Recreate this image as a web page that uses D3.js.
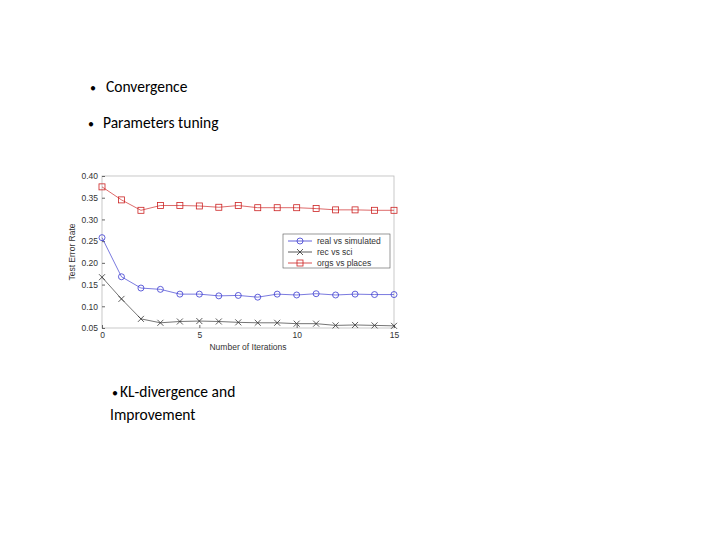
<html>
<script src="https://d3js.org/d3.v7.min.js"></script>
<body style="margin:0;background:#fff">
</body>
<script>
// values
let iterations = d3.range(0, 16);
let orgsPlaces = [0.375,0.345,0.321,0.332,0.332,0.331,0.328,0.332,0.327,0.327,0.327,0.325,0.322,0.322,0.321,0.321];
let realSim = [0.258,0.168,0.142,0.139,0.128,0.128,0.124,0.125,0.121,0.128,0.126,0.129,0.126,0.128,0.127,0.127];
let recSci = [0.167,0.117,0.071,0.062,0.065,0.066,0.065,0.063,0.062,0.062,0.060,0.060,0.056,0.057,0.056,0.055];
let xTicks = [0, 5, 10, 15];
let yTicks = [0.05,0.10,0.15,0.20,0.25,0.30,0.35,0.40];

let svg = d3.select("body").append("svg").attr("width", 720).attr("height", 540)
    .style("font-family", "Carlito, 'Open Sans', sans-serif");

// slide text: [bullet?, text, bulletX, textX, y]
let txt = [[true, "Convergence", 90, 106, 92], [true, "Parameters tuning", 88, 103, 128],
           [true, "KL-divergence and", 112, 120, 397], [false, "Improvement", 0, 110, 420]];
let tg = svg.selectAll(".slide").data(txt).join("g");
tg.filter(d => d[0]).append("text").attr("x", d => d[2]).attr("y", d => d[4])
    .attr("font-size", 12).text("•");
tg.append("text").attr("x", d => d[3]).attr("y", d => d[4]).attr("font-size", 15.5).text(d => d[1]);

let x = d3.scaleLinear().domain([0, 15]).range([102, 394]);
let y = d3.scaleLinear().domain([0.05, 0.40]).range([328, 176]);

let g = svg.append("g").attr("font-family", "'Liberation Sans', Arial, sans-serif");
g.append("rect").attr("x", 102).attr("y", 176).attr("width", 292).attr("height", 152)
    .attr("fill", "none").attr("stroke", "#bbb").attr("stroke-width", 0.8);

g.append("g").attr("transform", "translate(0,328)")
    .call(d3.axisBottom(x).tickValues(xTicks).tickSize(-3).tickPadding(4))
    .call(a => a.select(".domain").remove())
    .call(a => a.selectAll("text").attr("font-size", 8.5).attr("fill", "#333"))
    .call(a => a.selectAll("line").attr("stroke", "#666"));
g.append("g").attr("transform", "translate(102,0)")
    .call(d3.axisLeft(y).tickValues(yTicks).tickSize(-3).tickPadding(4).tickFormat(d3.format(".2f")))
    .call(a => a.select(".domain").remove())
    .call(a => a.selectAll("text").attr("font-size", 8.5).attr("fill", "#333"))
    .call(a => a.selectAll("line").attr("stroke", "#666"));

g.append("text").attr("x", 248).attr("y", 350).attr("text-anchor", "middle")
    .attr("font-size", 8.5).attr("fill", "#333").text("Number of Iterations");
g.append("text").attr("transform", "translate(75,252) rotate(-90)").attr("text-anchor", "middle")
    .attr("font-size", 8.5).attr("fill", "#333").text("Test Error Rate");

let series = [
  {name: "real vs simulated", vals: realSim, color: "#3a3ad0", mark: "o"},
  {name: "rec vs sci", vals: recSci, color: "#333", mark: "x"},
  {name: "orgs vs places", vals: orgsPlaces, color: "#cc2222", mark: "s"}
];
let line = d3.line().x((d, i) => x(iterations[i])).y(d => y(d));

function marker(sel, s, cx, cy) {
  if (s.mark === "o") sel.append("circle").attr("cx", cx).attr("cy", cy).attr("r", 3)
      .attr("fill", "none").attr("stroke", s.color).attr("stroke-width", 0.8);
  else if (s.mark === "s") sel.append("rect").attr("x", cx - 3).attr("y", cy - 3).attr("width", 6).attr("height", 6)
      .attr("fill", "none").attr("stroke", s.color).attr("stroke-width", 0.8);
  else sel.append("path").attr("d", `M${cx-3},${cy-3}L${cx+3},${cy+3}M${cx-3},${cy+3}L${cx+3},${cy-3}`)
      .attr("stroke", s.color).attr("stroke-width", 0.8);
}

series.forEach(s => {
  g.append("path").datum(s.vals).attr("d", line).attr("fill", "none")
      .attr("stroke", s.color).attr("stroke-width", 0.8).attr("opacity", 0.85);
  s.vals.forEach((v, i) => marker(g, s, x(iterations[i]), y(v)));
});

// legend
let lg = g.append("g");
lg.append("rect").attr("x", 283).attr("y", 234).attr("width", 107).attr("height", 34)
    .attr("fill", "#fff").attr("stroke", "#555").attr("stroke-width", 0.6);
series.forEach((s, i) => {
  let ly = 241 + i * 11;
  lg.append("line").attr("x1", 288).attr("x2", 312).attr("y1", ly).attr("y2", ly)
      .attr("stroke", s.color).attr("stroke-width", 0.8);
  marker(lg, s, 300, ly);
  lg.append("text").attr("x", 317).attr("y", ly + 3).attr("font-size", 8.5).attr("fill", "#333").text(s.name);
});
</script>
</html>
